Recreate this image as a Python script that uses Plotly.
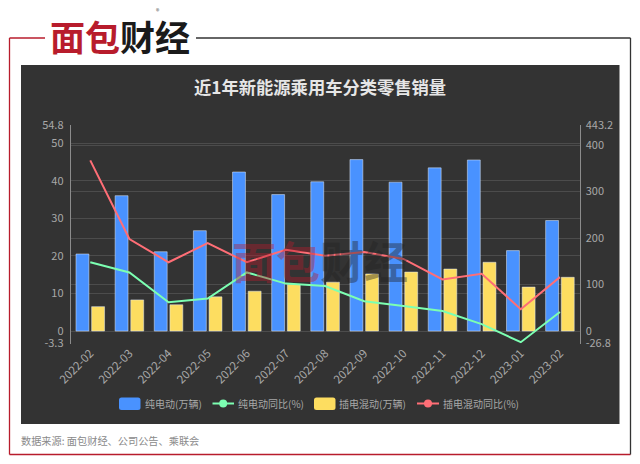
import plotly.graph_objects as go

months = ["2022-02", "2022-03", "2022-04", "2022-05", "2022-06", "2022-07", "2022-08",
          "2022-09", "2022-10", "2022-11", "2022-12", "2023-01", "2023-02"]
bev_sales = [20.5, 36.0, 21.1, 26.7, 42.3, 36.3, 39.7, 45.6, 39.6, 43.4, 45.5, 21.4, 29.4]
phev_sales = [6.5, 8.3, 7.0, 9.1, 10.6, 12.4, 13.0, 15.2, 15.7, 16.5, 18.3, 11.7, 14.3]
bev_yoy = [148, 126, 62, 70, 126, 102, 97, 64, 54, 43, 15, -24, 41]
phev_yoy = [367, 198, 148, 189, 148, 175, 162, 170, 155, 111, 123, 47, 116]

left_ticks = [-3.3, 0, 10, 20, 30, 40, 50, 54.8]
right_ticks = [-26.8, 0, 100, 200, 300, 400, 443.2]

W, H = 640, 464
BLUE, GREEN, YELLOW, RED = "#4992ff", "#7cffb2", "#fddd60", "#ff6e76"
FONT = "Noto Sans CJK SC"


def px(x):
    return x / W


def py(y):
    return 1 - y / H


def line(x0, y0, x1, y1, color, width=1.0):
    return dict(type="line", xref="paper", yref="paper", x0=px(x0), y0=py(y0), x1=px(x1), y1=py(y1),
                line=dict(color=color, width=width), layer="above")


def swatch(x0, y0, x1, y1, color, r=2.5):
    # rounded legend box
    p = (f"M {px(x0 + r)} {py(y0)} L {px(x1 - r)} {py(y0)} Q {px(x1)} {py(y0)} {px(x1)} {py(y0 + r)} "
         f"L {px(x1)} {py(y1 - r)} Q {px(x1)} {py(y1)} {px(x1 - r)} {py(y1)} "
         f"L {px(x0 + r)} {py(y1)} Q {px(x0)} {py(y1)} {px(x0)} {py(y1 - r)} "
         f"L {px(x0)} {py(y0 + r)} Q {px(x0)} {py(y0)} {px(x0 + r)} {py(y0)} Z")
    return dict(type="path", xref="paper", yref="paper", path=p, fillcolor=color, line=dict(width=0))


def circle(cx, cy, r, color):
    return dict(type="circle", xref="paper", yref="paper", x0=px(cx - r), x1=px(cx + r),
                y0=py(cy + r), y1=py(cy - r), fillcolor=color, line=dict(width=0))


def label(x, y, text, size, color, anchor="left", opacity=1.0):
    return dict(xref="paper", yref="paper", x=px(x), y=py(y), text=text, showarrow=False,
                xanchor=anchor, yanchor="middle", opacity=opacity,
                font=dict(family=FONT, size=size, color=color))


fig = go.Figure()
fig.add_trace(go.Bar(x=months, y=bev_sales, marker_color=BLUE, name="纯电动(万辆)"))
fig.add_trace(go.Bar(x=months, y=phev_sales, marker_color=YELLOW, name="插电混动(万辆)"))
fig.add_trace(go.Scatter(x=months, y=phev_yoy, yaxis="y2", mode="lines", name="插电混动同比(%)",
                         line=dict(color=RED, width=2)))
fig.add_trace(go.Scatter(x=months, y=bev_yoy, yaxis="y2", mode="lines", name="纯电动同比(%)",
                         line=dict(color=GREEN, width=2)))

shapes = [
    # page frame
    line(9.5, 38, 45, 38, "#b81c2c", 1.3),
    line(9.5, 38, 9.5, 454.5, "#b81c2c", 1.3),
    line(9.5, 454.5, 630.5, 454.5, "#b81c2c", 1.3),
    line(196, 38, 630.5, 38, "#333333", 1.3),
    line(630.5, 38, 630.5, 454.5, "#333333", 1.3),
    # legend
    swatch(119, 397.5, 140.5, 410, BLUE),
    line(212.5, 403.5, 234, 403.5, GREEN, 2),
    circle(223.2, 403.5, 4, GREEN),
    swatch(314, 397.5, 335.5, 410, YELLOW),
    line(417, 403.5, 439, 403.5, RED, 2),
    circle(428, 403.5, 4, RED),
]
# dark panel goes under the plot
shapes.insert(0, dict(type="rect", xref="paper", yref="paper", x0=px(21), x1=px(619.5),
                      y0=py(424), y1=py(65), fillcolor="#333333", line=dict(width=0), layer="below"))

annotations = [
    label(320, 86.5, "<b>近1年新能源乘用车分类零售销量</b>", 17.3, "#e6e6e6", "center"),
    label(143, 403.5, "纯电动(万辆)", 10, "#a8a8a8"),
    label(236, 403.5, "纯电动同比(%)", 10, "#a8a8a8"),
    label(337, 403.5, "插电混动(万辆)", 10, "#a8a8a8"),
    label(441, 403.5, "插电混动同比(%)", 10, "#a8a8a8"),
    label(18.5, 440, "数据来源: 面包财经、公司公告、乘联会", 10.2, "#8a8a8a"),
    # logo
    label(120, 36, "<b><span style='color:#b81c2c'>面包</span>财经</b>", 35, "#1a1a1a", "center"),
    label(158, 11, "®", 7, "#555555", "center"),
    # watermark
    label(320, 260, "<span style='color:#b81c2c'><b>面包</b></span><b>财经</b>", 44, "#222222", "center", 0.4),
]

fig.update_layout(
    width=W, height=H,
    margin=dict(l=0, r=0, t=0, b=0, autoexpand=False),
    paper_bgcolor="#ffffff",
    plot_bgcolor="rgba(0,0,0,0)",
    showlegend=False,
    barmode="group",
    bargap=0.2,
    bargroupgap=0.175,
    font=dict(family=FONT, size=11, color="#a8a8a8"),
    shapes=shapes,
    annotations=annotations,
    xaxis=dict(
        domain=[px(70.7), px(579.5)], type="category", range=[-0.5, 12.5],
        tickangle=-45, ticks="", ticklen=0, showgrid=False, zeroline=False, showline=False,
        tickfont=dict(size=11.5, color="#a8a8a8"), anchor="y",
    ),
    yaxis=dict(
        domain=[py(343.5), py(125)], range=[-3.3, 54.8], tickmode="array",
        tickvals=left_ticks, ticktext=[str(t) for t in left_ticks],
        showgrid=True, gridcolor="#4c4c4c", gridwidth=1, zeroline=False,
        showline=True, linecolor="#8c8c8c", ticks="outside", ticklen=4, tickcolor="rgba(0,0,0,0)",
        tickfont=dict(size=11, color="#a8a8a8"), anchor="x",
    ),
    yaxis2=dict(
        domain=[py(343.5), py(125)], range=[-26.8, 443.2], overlaying="y", side="right", tickmode="array",
        tickvals=right_ticks, ticktext=[str(t) for t in right_ticks],
        showgrid=True, gridcolor="#4c4c4c", gridwidth=1, zeroline=False,
        showline=True, linecolor="#8c8c8c", ticks="outside", ticklen=3, tickcolor="rgba(0,0,0,0)",
        tickfont=dict(size=11, color="#a8a8a8"), anchor="x",
    ),
    # axis line at zero with ticks between the months
    xaxis2=dict(
        overlaying="x", domain=[px(70.7), px(579.5)], range=[-0.5, 12.5], anchor="free",
        position=py(331), side="bottom", showline=True, linecolor="#b4b4b4", linewidth=1,
        tickmode="array", tickvals=[i - 0.5 for i in range(len(months) + 1)],
        ticktext=[""] * (len(months) + 1), ticks="outside", ticklen=4, tickcolor="#b4b4b4",
        showgrid=False, zeroline=False,
    ),
)

fig.write_html("out.html", config={"displayModeBar": False},
               post_script="document.body.style.margin='0';document.documentElement.style.overflow='hidden';")
